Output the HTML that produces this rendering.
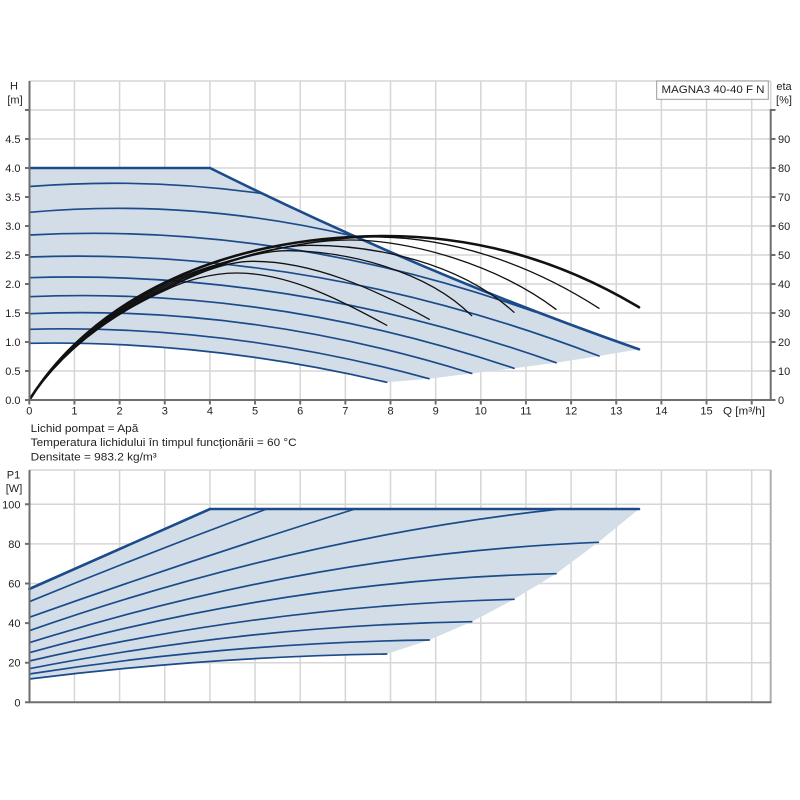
<!DOCTYPE html>
<html>
<head>
<meta charset="utf-8">
<style>
  html,body{margin:0;padding:0;background:#fff;}
  svg{display:block;}
  text{font-family:"Liberation Sans",Arial,sans-serif;font-size:11px;fill:#222;}
</style>
</head>
<body>
<svg width="800" height="800" viewBox="0 0 800 800" xmlns="http://www.w3.org/2000/svg">
  <rect x="0" y="0" width="800" height="800" fill="#fff"/>

  <!-- ===== TOP PANEL ===== -->
  <g stroke="#d6d6d6" stroke-width="1.5" fill="none">
    <path d="M74.45,81V400 M119.6,81V400 M164.75,81V400 M209.9,81V400 M255.05,81V400 M300.2,81V400 M345.35,81V400 M390.5,81V400 M435.65,81V400 M480.8,81V400 M525.95,81V400 M571.1,81V400 M616.25,81V400 M661.4,81V400 M706.55,81V400 M751.7,81V400"/>
    <path d="M29.3,371H770.7 M29.3,342H770.7 M29.3,313H770.7 M29.3,284H770.7 M29.3,255H770.7 M29.3,226H770.7 M29.3,197H770.7 M29.3,168H770.7 M29.3,139H770.7 M29.3,110H770.7 M29.3,81H770.7"/>
    <path d="M770.7,81V110"/>
  </g>

  <path d="M29.3,168 L210,168 Q424.5,274.6 639,349.3 L599,356 L556,362.7 L514,368.3 L471.7,373.4 L429,378.7 L386.7,382.3 Q208,340.2 29.3,343.3 Z" fill="#d3dde8"/>

  <g stroke="#1b4b8a" stroke-width="1.7" fill="none" stroke-linecap="round">
    <path d="M29.3,186.5 Q145.7,177.4 262,193.5"/>
    <path d="M29.3,212.3 Q193.2,197.6 357,237"/>
    <path d="M29.3,235 Q282.15,221.85 535,312"/>
    <path d="M29.3,257 Q314.15,246.9 599,356"/>
    <path d="M29.3,277.7 Q292.65,269.4 556,362.7"/>
    <path d="M29.3,296.7 Q271.65,286.5 514,368.3"/>
    <path d="M29.3,313.7 Q250.5,304.4 471.7,373.4"/>
    <path d="M29.3,329.3 Q229.15,324 429,378.7"/>
    <path d="M29.3,343.3 Q208,340.2 386.7,382.3"/>
  </g>
  <path d="M29.3,168 L210,168 Q424.5,274.6 639,349.3" stroke="#1b4b8a" stroke-width="2.6" fill="none" stroke-linecap="round" stroke-linejoin="round"/>

  <g stroke="#111" stroke-width="1.3" fill="none" stroke-linecap="round">
    <path d="M29.3,400 C59.3,352.5 105.7,312.1 165.9,283.5 C210.9,261.9 310,237 375,237 C450,237 529,263.3 599,308.3"/>
    <path d="M29.3,400 C59.3,353 105.7,313.3 165.9,285 C205.9,265.8 290,240 350,240 C410,240 496,264.3 556,309.3"/>
    <path d="M29.3,400 C59.3,353.6 105.7,314.4 165.9,286.5 C200.9,269.7 265,245.3 310,245.3 C375,245.3 459,262.3 514,312.3"/>
    <path d="M29.3,400 C59.3,354.1 105.7,315.5 165.9,288 C195.9,273.6 250,250.7 286.7,250.7 C346.7,250.7 426.7,270.7 471.7,315.7"/>
    <path d="M29.3,400 C59.3,354.45 105.7,316.25 165.9,289 C185.9,279.4 220,261.3 253,261.3 C313,261.3 374.3,289 429.3,319.3"/>
    <path d="M29.3,400 C59.3,354.8 105.7,317 165.9,290 C185.9,280.4 211.7,273 236.7,273 C286.7,273 336.7,297.8 386.7,325.3"/>
  </g>
  <path d="M29.3,400 C59.3,352 105.7,311 165.9,282 C226.1,253 300,236 385,236 C475,236 559,259.3 639,307.3" stroke="#111" stroke-width="2.6" fill="none" stroke-linecap="round"/>

  <g stroke="#6e6e6e" stroke-width="2" fill="none">
    <path d="M29.5,81V401 M28.5,400H771.5 M770.7,109V401"/>
    <path d="M25,400H29.5 M25,371H29.5 M25,342H29.5 M25,313H29.5 M25,284H29.5 M25,255H29.5 M25,226H29.5 M25,197H29.5 M25,168H29.5 M25,139H29.5 M25,110H29.5"/>
    <path d="M770.7,400H775.5 M770.7,371H775.5 M770.7,342H775.5 M770.7,313H775.5 M770.7,284H775.5 M770.7,255H775.5 M770.7,226H775.5 M770.7,197H775.5 M770.7,168H775.5 M770.7,139H775.5 M770.7,110H775.5"/>
    <path d="M29.3,400V404.5 M74.45,400V404.5 M119.6,400V404.5 M164.75,400V404.5 M209.9,400V404.5 M255.05,400V404.5 M300.2,400V404.5 M345.35,400V404.5 M390.5,400V404.5 M435.65,400V404.5 M480.8,400V404.5 M525.95,400V404.5 M571.1,400V404.5 M616.25,400V404.5 M661.4,400V404.5 M706.55,400V404.5 M751.7,400V404.5"/>
  </g>

  <rect x="656.7" y="81" width="111.6" height="18.3" fill="#fff" stroke="#9a9a9a" stroke-width="1"/>
  <text x="661.5" y="93" textLength="103" lengthAdjust="spacingAndGlyphs">MAGNA3 40-40 F N</text>

  <text x="14" y="89.5" text-anchor="middle">H</text>
  <text x="15" y="103.5" text-anchor="middle">[m]</text>
  <text x="784" y="90" text-anchor="middle">eta</text>
  <text x="784" y="103.5" text-anchor="middle">[%]</text>

  <g text-anchor="end">
    <text x="20.5" y="404">0.0</text>
    <text x="20.5" y="375">0.5</text>
    <text x="20.5" y="346">1.0</text>
    <text x="20.5" y="317">1.5</text>
    <text x="20.5" y="288">2.0</text>
    <text x="20.5" y="259">2.5</text>
    <text x="20.5" y="230">3.0</text>
    <text x="20.5" y="201">3.5</text>
    <text x="20.5" y="172">4.0</text>
    <text x="20.5" y="143">4.5</text>
  </g>
  <g>
    <text x="778" y="404">0</text>
    <text x="778" y="375">10</text>
    <text x="778" y="346">20</text>
    <text x="778" y="317">30</text>
    <text x="778" y="288">40</text>
    <text x="778" y="259">50</text>
    <text x="778" y="230">60</text>
    <text x="778" y="201">70</text>
    <text x="778" y="172">80</text>
    <text x="778" y="143">90</text>
  </g>
  <g text-anchor="middle">
    <text x="29.3" y="414.5">0</text>
    <text x="74.45" y="414.5">1</text>
    <text x="119.6" y="414.5">2</text>
    <text x="164.75" y="414.5">3</text>
    <text x="209.9" y="414.5">4</text>
    <text x="255.05" y="414.5">5</text>
    <text x="300.2" y="414.5">6</text>
    <text x="345.35" y="414.5">7</text>
    <text x="390.5" y="414.5">8</text>
    <text x="435.65" y="414.5">9</text>
    <text x="480.8" y="414.5">10</text>
    <text x="525.95" y="414.5">11</text>
    <text x="571.1" y="414.5">12</text>
    <text x="616.25" y="414.5">13</text>
    <text x="661.4" y="414.5">14</text>
    <text x="706.55" y="414.5">15</text>
  </g>
  <text x="723" y="414.5" textLength="42" lengthAdjust="spacingAndGlyphs">Q [m³/h]</text>

  <text x="30.7" y="432" textLength="107.6" lengthAdjust="spacingAndGlyphs">Lichid pompat = Apă</text>
  <text x="30.7" y="446" textLength="266" lengthAdjust="spacingAndGlyphs">Temperatura lichidului în timpul funcţionării = 60 °C</text>
  <text x="30.7" y="460.5" textLength="126" lengthAdjust="spacingAndGlyphs">Densitate = 983.2 kg/m³</text>

  <!-- ===== BOTTOM PANEL ===== -->
  <g stroke="#d6d6d6" stroke-width="1.5" fill="none">
    <path d="M74.45,470V702.3 M119.6,470V702.3 M164.75,470V702.3 M209.9,470V702.3 M255.05,470V702.3 M300.2,470V702.3 M345.35,470V702.3 M390.5,470V702.3 M435.65,470V702.3 M480.8,470V702.3 M525.95,470V702.3 M571.1,470V702.3 M616.25,470V702.3 M661.4,470V702.3 M706.55,470V702.3 M751.7,470V702.3"/>
    <path d="M29.3,662.7H770.7 M29.3,623.1H770.7 M29.3,583.5H770.7 M29.3,543.9H770.7 M29.3,504.3H770.7 M29.3,470H770.7"/>
  </g>
  <path d="M770.7,470V702.3" stroke="#b0b0b0" stroke-width="2" fill="none"/>

  <path d="M29.3,589 L210,509 L639,509 L598.3,542.3 L556,573.7 L514,599.3 L471.7,621.7 L429.3,640 L386.7,654 Q208,656.6 29.3,679 Z" fill="#d3dde8"/>

  <g stroke="#1b4b8a" stroke-width="1.7" fill="none" stroke-linecap="round">
    <path d="M29.3,601.7 Q148,553 266.7,509"/>
    <path d="M29.3,617.3 Q192.15,559.5 355,509"/>
    <path d="M29.3,630.7 Q294.65,537.9 560,509"/>
    <path d="M29.3,642.7 Q313.8,553.6 598.3,542.3"/>
    <path d="M29.3,652.7 Q292.65,579.5 556,573.7"/>
    <path d="M29.3,661 Q271.65,605.4 514,599.3"/>
    <path d="M29.3,668.7 Q250.5,625.3 471.7,621.7"/>
    <path d="M29.3,674 Q229.3,642.7 429.3,640"/>
    <path d="M29.3,679 Q208,656.6 386.7,654"/>
  </g>
  <path d="M29.3,589 L210,509 L639,509" stroke="#1b4b8a" stroke-width="2.6" fill="none" stroke-linecap="round" stroke-linejoin="round"/>

  <g stroke="#6e6e6e" stroke-width="2" fill="none">
    <path d="M29.5,470V703.3 M28.5,702.3H771.5"/>
    <path d="M25,702.3H29.5 M25,662.7H29.5 M25,623.1H29.5 M25,583.5H29.5 M25,543.9H29.5 M25,504.3H29.5"/>
  </g>

  <text x="13.5" y="478.5" text-anchor="middle">P1</text>
  <text x="14" y="492" text-anchor="middle">[W]</text>
  <g text-anchor="end">
    <text x="20.5" y="706.3">0</text>
    <text x="20.5" y="666.7">20</text>
    <text x="20.5" y="627.1">40</text>
    <text x="20.5" y="587.5">60</text>
    <text x="20.5" y="547.9">80</text>
    <text x="20.5" y="508.3">100</text>
  </g>
</svg>
</body>
</html>
